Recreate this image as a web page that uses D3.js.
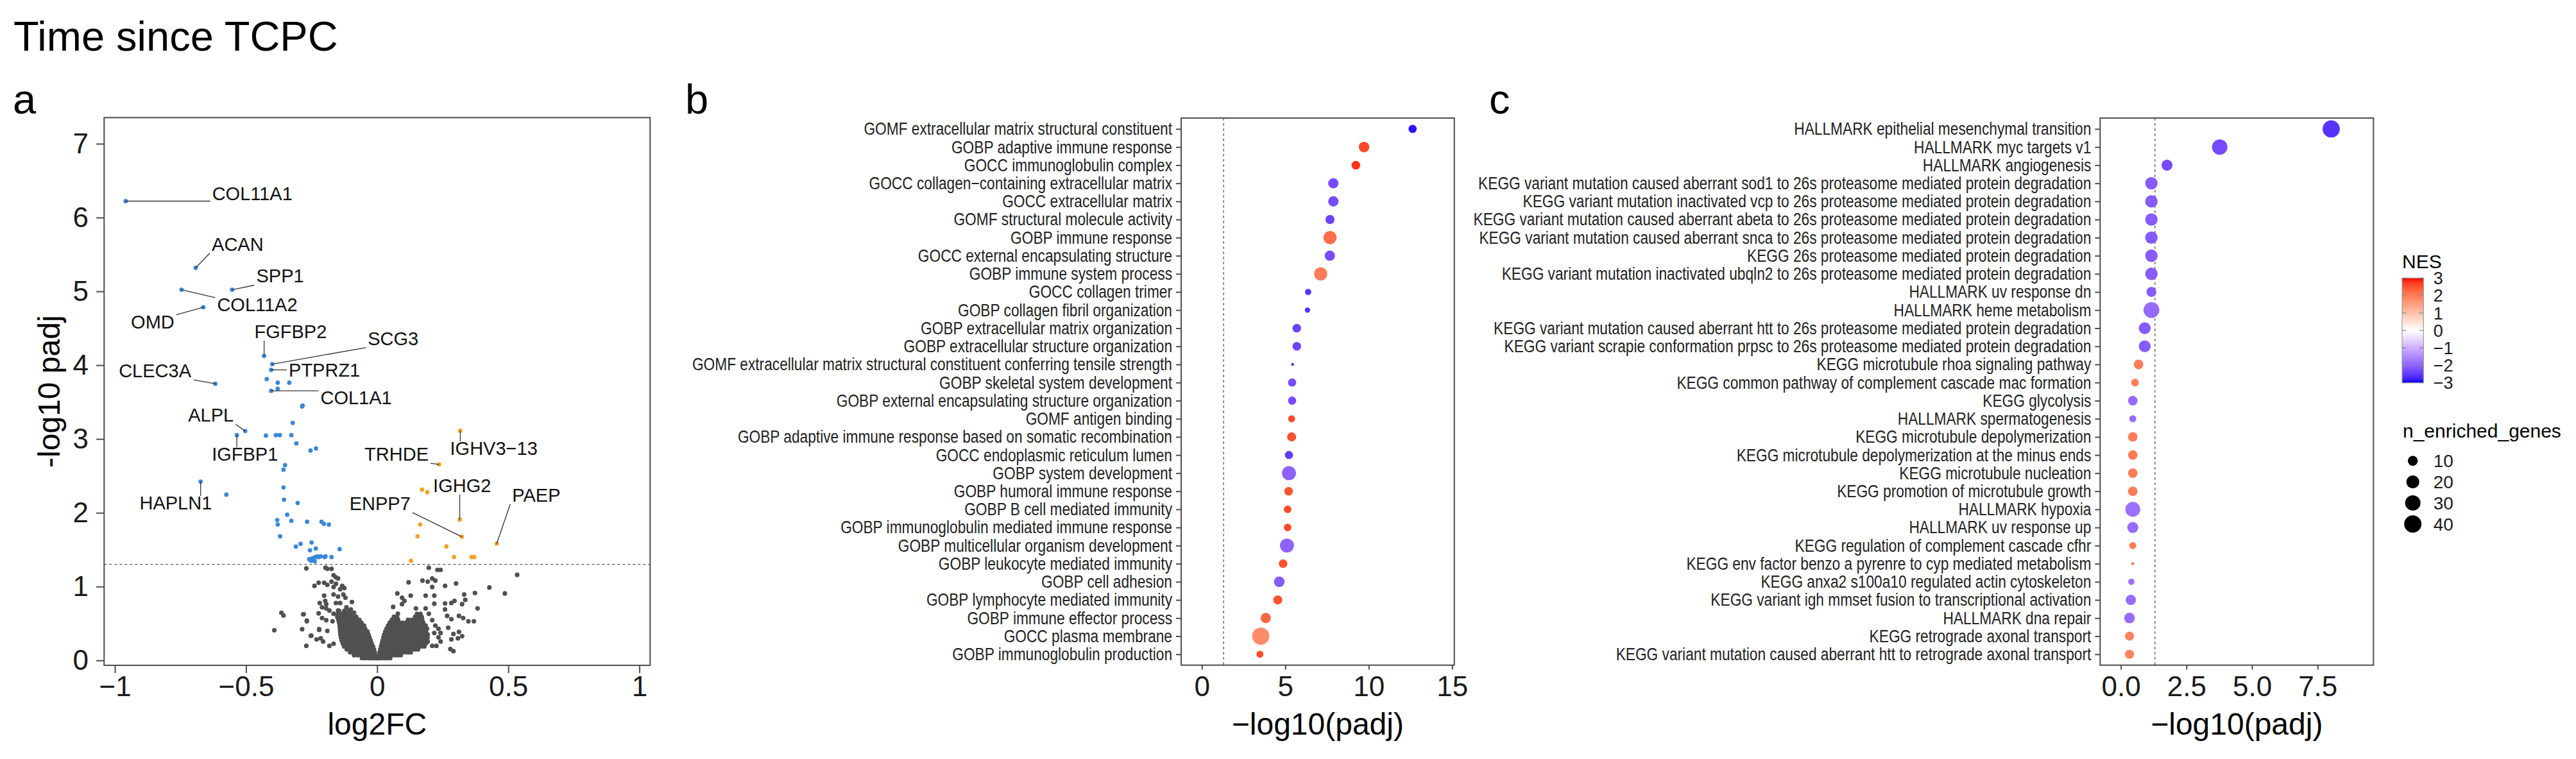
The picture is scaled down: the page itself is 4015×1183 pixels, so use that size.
<!DOCTYPE html>
<html>
<head>
<meta charset="utf-8">
<script src="https://cdn.jsdelivr.net/npm/d3@7"></script>
<style>
  body { margin: 0; background: #fff; }
  svg { display: block; font-family: "Liberation Sans", Arial, Helvetica, sans-serif; }
</style>
</head>
<body>
<div id="chart"></div>
<script>
// ---------- panel a : volcano ----------
const xTicksA = [-1, -0.5, 0, 0.5, 1];
const xTickLabelsA = ["\u22121", "\u22120.5", "0", "0.5", "1"];
const yTicksA = [0, 1, 2, 3, 4, 5, 6, 7];

// significant, down (log2FC, -log10 padj)
const downGenes = [
  [-0.959, 6.222], [-0.692, 5.318], [-0.746, 5.022], [-0.553, 5.022], [-0.663, 4.785],
  [-0.431, 4.124], [-0.400, 4.014], [-0.404, 3.936], [-0.421, 3.811], [-0.379, 3.762],
  [-0.335, 3.762], [-0.404, 3.652], [-0.379, 3.681], [-0.617, 3.748], [-0.284, 3.452],
  [-0.286, 3.440], [-0.322, 3.217], [-0.503, 3.107], [-0.535, 3.052], [-0.424, 3.046],
  [-0.386, 3.052], [-0.371, 3.052], [-0.327, 3.052], [-0.308, 2.939], [-0.254, 2.843],
  [-0.233, 2.872], [-0.351, 2.646], [-0.357, 2.583], [-0.673, 2.423], [-0.575, 2.246],
  [-0.357, 2.342], [-0.355, 2.177], [-0.303, 2.133], [-0.343, 1.974], [-0.381, 1.901],
  [-0.379, 1.840], [-0.327, 1.892], [-0.267, 1.878], [-0.212, 1.878], [-0.203, 1.849],
  [-0.184, 1.840], [-0.370, 1.681], [-0.250, 1.597], [-0.292, 1.579], [-0.310, 1.542],
  [-0.256, 1.492], [-0.234, 1.516], [-0.258, 1.370], [-0.246, 1.385], [-0.235, 1.400],
  [-0.223, 1.400], [-0.200, 1.400], [-0.174, 1.400], [-0.238, 1.342], [-0.143, 1.507],
  [-0.252, 1.350], [-0.259, 1.371], [-0.227, 1.409], [-0.215, 1.409], [-0.197, 1.409]
];
// significant, up
const upGenes = [
  [0.317, 3.110], [0.236, 2.655], [0.171, 2.313], [0.191, 2.278], [0.315, 1.907],
  [0.164, 1.840], [0.154, 1.681], [0.323, 1.675], [0.456, 1.583], [0.264, 1.544],
  [0.293, 1.400], [0.360, 1.400], [0.370, 1.400], [0.129, 1.348]
];
// not significant, scattered
const greyScatter = [
  [-0.270, 1.246], [-0.197, 1.255], [-0.190, 1.241], [-0.174, 1.241], [-0.166, 1.154], [-0.157, 1.125], [-0.149, 1.110],
  [-0.239, 1.009], [-0.223, 1.052], [-0.202, 1.052], [-0.190, 1.023], [-0.166, 0.994], [-0.133, 1.009], [-0.125, 0.980],
  [-0.202, 0.878], [-0.166, 0.893], [-0.149, 0.864], [-0.129, 0.893], [-0.121, 0.849], [-0.219, 0.777], [-0.194, 0.762],
  [-0.157, 0.777], [-0.141, 0.777], [-0.096, 0.791], [-0.194, 0.704], [-0.182, 0.675], [-0.149, 0.675], [-0.117, 0.719],
  [-0.088, 0.646], [-0.365, 0.646], [-0.357, 0.609], [-0.280, 0.626], [-0.268, 0.539], [-0.223, 0.638], [-0.210, 0.574],
  [-0.194, 0.545], [-0.170, 0.530], [-0.392, 0.409], [-0.286, 0.423], [-0.221, 0.423], [-0.190, 0.400], [-0.251, 0.336],
  [-0.231, 0.284], [-0.215, 0.299], [-0.270, 0.197], [-0.182, 0.197], [-0.166, 0.226], [-0.206, 0.255],
  [-0.157, 1.038], [-0.141, 0.965], [-0.174, 1.067], [-0.210, 0.719], [-0.166, 0.632], [-0.129, 0.632], [-0.100, 0.690],
  [-0.198, 0.806], [-0.141, 0.574], [-0.108, 0.603], [-0.282, 0.623], [-0.268, 0.530], [-0.253, 0.333], [-0.221, 0.414],
  [0.197, 1.255], [0.230, 1.226], [0.242, 1.226], [0.120, 1.058], [0.173, 1.081], [0.193, 1.067], [0.210, 1.110],
  [0.222, 1.081], [0.210, 0.994], [0.259, 1.009], [0.301, 1.043], [0.428, 0.988], [0.534, 1.159], [0.487, 0.907],
  [0.077, 0.907], [0.095, 0.849], [0.104, 0.806], [0.128, 0.878], [0.185, 0.878], [0.218, 0.878], [0.332, 0.893],
  [0.373, 0.913], [0.061, 0.725], [0.079, 0.632], [0.095, 0.762], [0.148, 0.704], [0.185, 0.704], [0.218, 0.768],
  [0.259, 0.771], [0.283, 0.777], [0.295, 0.806], [0.324, 0.762], [0.336, 0.820], [0.383, 0.704], [0.259, 0.690],
  [0.267, 0.603], [0.283, 0.559], [0.312, 0.603], [0.328, 0.574], [0.348, 0.530], [0.369, 0.530], [0.271, 0.443],
  [0.291, 0.357], [0.312, 0.386], [0.308, 0.299], [0.324, 0.328], [0.283, 0.284], [0.279, 0.154], [0.291, 0.125],
  [0.042, 0.386], [0.218, 0.371], [0.234, 0.313], [0.242, 0.255], [0.226, 0.197], [0.197, 0.632], [0.210, 0.545],
  [0.222, 0.472], [0.234, 0.428], [0.193, 0.255], [0.210, 0.197], [0.242, 0.371]
];
// not significant, dense core read row by row: [-log10 padj, [log2FC ...]]
const greyDense = [
  [0.03, [-0.058, -0.046, -0.034, -0.022, -0.011, -0.003, 0.004, 0.015, 0.027, 0.039, 0.05]],
  [0.07, [-0.088, -0.075, -0.062, -0.05, -0.038, -0.026, -0.014, -0.006, 0.007, 0.019, 0.031, 0.043, 0.055, 0.067, 0.079, 0.09]],
  [0.11, [-0.103, -0.09, -0.077, -0.064, -0.052, -0.04, -0.028, -0.017, -0.009, 0.01, 0.022, 0.034, 0.046, 0.058, 0.07, 0.082, 0.094, 0.106, 0.118, 0.128]],
  [0.15, [-0.116, -0.103, -0.09, -0.077, -0.064, -0.052, -0.04, -0.029, -0.019, -0.012, 0.012, 0.024, 0.036, 0.048, 0.06, 0.072, 0.084, 0.096, 0.108, 0.12, 0.132, 0.144, 0.156]],
  [0.19, [-0.126, -0.113, -0.1, -0.087, -0.074, -0.062, -0.05, -0.038, -0.027, -0.016, 0.015, 0.027, 0.039, 0.051, 0.063, 0.075, 0.087, 0.099, 0.111, 0.123, 0.135, 0.147, 0.159, 0.171, 0.18]],
  [0.23, [-0.131, -0.118, -0.105, -0.092, -0.079, -0.066, -0.054, -0.042, -0.031, -0.021, 0.018, 0.03, 0.042, 0.054, 0.066, 0.078, 0.09, 0.102, 0.114, 0.126, 0.138, 0.15, 0.162, 0.174, 0.186]],
  [0.27, [-0.135, -0.122, -0.109, -0.096, -0.083, -0.07, -0.058, -0.046, -0.035, -0.025, 0.021, 0.033, 0.045, 0.057, 0.069, 0.081, 0.093, 0.105, 0.117, 0.129, 0.141, 0.153, 0.165, 0.177, 0.19]],
  [0.31, [-0.138, -0.125, -0.112, -0.099, -0.086, -0.073, -0.061, -0.049, -0.038, -0.029, 0.024, 0.036, 0.048, 0.06, 0.072, 0.084, 0.096, 0.108, 0.12, 0.132, 0.144, 0.156, 0.168, 0.18, 0.192]],
  [0.35, [-0.14, -0.127, -0.114, -0.101, -0.088, -0.075, -0.063, -0.051, -0.041, -0.033, 0.027, 0.039, 0.051, 0.063, 0.075, 0.087, 0.099, 0.111, 0.123, 0.135, 0.147, 0.159, 0.171, 0.183, 0.193]],
  [0.39, [-0.141, -0.128, -0.115, -0.102, -0.089, -0.076, -0.064, -0.053, -0.043, -0.037, 0.031, 0.043, 0.055, 0.067, 0.079, 0.091, 0.103, 0.115, 0.127, 0.139, 0.151, 0.163, 0.175, 0.186]],
  [0.43, [-0.142, -0.129, -0.116, -0.103, -0.09, -0.077, -0.065, -0.055, -0.046, 0.036, 0.048, 0.06, 0.072, 0.084, 0.096, 0.108, 0.12, 0.132, 0.144, 0.156, 0.168, 0.18, 0.19]],
  [0.47, [-0.143, -0.13, -0.117, -0.104, -0.091, -0.078, -0.067, -0.057, -0.05, 0.042, 0.054, 0.066, 0.078, 0.09, 0.102, 0.114, 0.126, 0.138, 0.15, 0.162, 0.174, 0.185]],
  [0.51, [-0.145, -0.132, -0.119, -0.106, -0.093, -0.08, -0.069, -0.06, 0.048, 0.06, 0.072, 0.084, 0.096, 0.11, 0.124, 0.137, 0.15, 0.163, 0.176]],
  [0.55, [-0.148, -0.134, -0.12, -0.106, -0.092, -0.079, -0.068, 0.056, 0.068, 0.08, 0.118, 0.132, 0.146, 0.16, 0.172]],
  [0.59, [-0.152, -0.137, -0.122, -0.107, -0.093, -0.08, 0.064, 0.076, 0.145, 0.158, 0.17]],
  [0.63, [-0.15, -0.134, -0.118, -0.1, 0.152, 0.165]],
  [0.67, [-0.145, -0.125, -0.108]]
];
// labelled genes: [name, point log2FC, point -log10 padj, label log2FC, label -log10 padj]
const geneLabels = [
  ["COL11A1", -0.959, 6.222, -0.476, 6.322],
  ["ACAN", -0.692, 5.318, -0.532, 5.643],
  ["SPP1", -0.553, 5.022, -0.370, 5.209],
  ["COL11A2", -0.746, 5.022, -0.457, 4.823],
  ["OMD", -0.663, 4.785, -0.856, 4.591],
  ["FGFBP2", -0.431, 4.124, -0.330, 4.458],
  ["SCG3", -0.400, 4.014, 0.061, 4.363],
  ["PTPRZ1", -0.404, 3.936, -0.201, 3.939],
  ["COL1A1", -0.404, 3.652, -0.080, 3.563],
  ["CLEC3A", -0.617, 3.748, -0.847, 3.925],
  ["ALPL", -0.503, 3.107, -0.634, 3.325],
  ["IGFBP1", -0.535, 3.052, -0.504, 2.795],
  ["HAPLN1", -0.673, 2.423, -0.768, 2.137],
  ["IGHV3\u221213", 0.317, 3.110, 0.445, 2.873],
  ["TRHDE", 0.236, 2.655, 0.074, 2.795],
  ["IGHG2", 0.315, 1.907, 0.324, 2.374],
  ["ENPP7", 0.323, 1.675, 0.011, 2.128],
  ["PAEP", 0.456, 1.583, 0.607, 2.243]
];

// ---------- panel b : GO ----------
const goTerms = [
  "GOMF extracellular matrix structural constituent", "GOBP adaptive immune response",
  "GOCC immunoglobulin complex", "GOCC collagen\u2212containing extracellular matrix",
  "GOCC extracellular matrix", "GOMF structural molecule activity", "GOBP immune response",
  "GOCC external encapsulating structure", "GOBP immune system process", "GOCC collagen trimer",
  "GOBP collagen fibril organization", "GOBP extracellular matrix organization",
  "GOBP extracellular structure organization",
  "GOMF extracellular matrix structural constituent conferring tensile strength",
  "GOBP skeletal system development", "GOBP external encapsulating structure organization",
  "GOMF antigen binding", "GOBP adaptive immune response based on somatic recombination",
  "GOCC endoplasmic reticulum lumen", "GOBP system development", "GOBP humoral immune response",
  "GOBP B cell mediated immunity", "GOBP immunoglobulin mediated immune response",
  "GOBP multicellular organism development", "GOBP leukocyte mediated immunity", "GOBP cell adhesion",
  "GOBP lymphocyte mediated immunity", "GOBP immune effector process", "GOCC plasma membrane",
  "GOBP immunoglobulin production"
];
const goPadj = [12.63, 9.72, 9.23, 7.88, 7.88, 7.68, 7.68, 7.67, 7.12, 6.37, 6.33, 5.69, 5.69, 5.44, 5.41,
  5.41, 5.38, 5.38, 5.22, 5.22, 5.20, 5.14, 5.14, 5.10, 4.87, 4.64, 4.55, 3.83, 3.53, 3.48];
const goNES = [-2.9, 2.6, 2.8, -2.3, -2.3, -2.4, 2.2, -2.3, 2.0, -2.6, -2.6, -2.4, -2.4, -2.6, -2.3,
  -2.3, 2.6, 2.5, -2.5, -2.0, 2.5, 2.6, 2.6, -2.0, 2.5, -2.1, 2.5, 2.3, 1.8, 2.6];
const goN = [6, 12, 7, 11, 11, 8, 21, 11, 21, 3, 2, 7, 7, 1, 6, 6, 4, 8, 6, 24, 7, 5, 5, 24, 7, 12, 8, 11, 39, 4];
const xTicksB = [0, 5, 10, 15];

// ---------- panel c : HALLMARK / KEGG ----------
const pwTerms = [
  "HALLMARK epithelial mesenchymal transition", "HALLMARK myc targets v1", "HALLMARK angiogenesis",
  "KEGG variant mutation caused aberrant sod1 to 26s proteasome mediated protein degradation",
  "KEGG variant mutation inactivated vcp to 26s proteasome mediated protein degradation",
  "KEGG variant mutation caused aberrant abeta to 26s proteasome mediated protein degradation",
  "KEGG variant mutation caused aberrant snca to 26s proteasome mediated protein degradation",
  "KEGG 26s proteasome mediated protein degradation",
  "KEGG variant mutation inactivated ubqln2 to 26s proteasome mediated protein degradation",
  "HALLMARK uv response dn", "HALLMARK heme metabolism",
  "KEGG variant mutation caused aberrant htt to 26s proteasome mediated protein degradation",
  "KEGG variant scrapie conformation prpsc to 26s proteasome mediated protein degradation",
  "KEGG microtubule rhoa signaling pathway", "KEGG common pathway of complement cascade mac formation",
  "KEGG glycolysis", "HALLMARK spermatogenesis", "KEGG microtubule depolymerization",
  "KEGG microtubule depolymerization at the minus ends", "KEGG microtubule nucleation",
  "KEGG promotion of microtubule growth", "HALLMARK hypoxia", "HALLMARK uv response up",
  "KEGG regulation of complement cascade cfhr", "KEGG env factor benzo a pyrenre to cyp mediated metabolism",
  "KEGG anxa2 s100a10 regulated actin cytoskeleton", "KEGG variant igh mmset fusion to transcriptional activation",
  "HALLMARK dna repair", "KEGG retrograde axonal transport",
  "KEGG variant mutation caused aberrant htt to retrograde axonal transport"
];
const pwPadj = [8.02, 3.77, 1.76, 1.165, 1.165, 1.165, 1.165, 1.165, 1.165, 1.165, 1.165, 0.91, 0.91, 0.675, 0.54,
  0.455, 0.455, 0.455, 0.455, 0.455, 0.455, 0.455, 0.455, 0.455, 0.455, 0.40, 0.38, 0.33, 0.33, 0.33];
const pwNES = [-2.6, -2.3, -2.3, -2.1, -2.1, -2.1, -2.1, -2.1, -2.1, -2.1, -1.9, -2.1, -2.1, 2.0, 2.0,
  -1.9, -1.9, 2.0, 2.0, 2.0, 2.0, -1.8, -1.9, 2.0, 2.0, -1.8, -1.9, -1.9, 1.9, 1.9];
const pwN = [39, 30, 13, 18, 18, 18, 18, 18, 18, 10, 32, 16, 16, 9, 5, 9, 4, 9, 9, 9, 9, 28, 13, 4, 1, 3, 11, 12, 8, 8];
const xTicksC = [0, 2.5, 5, 7.5];
const xTickLabelsC = ["0.0", "2.5", "5.0", "7.5"];

// ---------- legends ----------
const nesTicks = [-3, -2, -1, 0, 1, 2, 3];
const sizeBreaks = [10, 20, 30, 40];

const W = 4015, H = 1183;
const AX = "#4d4d4d", TXT = "#1a1a1a";
const padjCut = -Math.log10(0.05);

const svg = d3.select("#chart").append("svg").attr("width", W).attr("height", H);
svg.append("rect").attr("width", W).attr("height", H).attr("fill", "#fff");

const nesColor = d3.scaleLinear().domain([-3, 0, 3]).range(["blue", "white", "red"])
  .interpolate(d3.interpolateLab).clamp(true);
const sizeT = d3.scaleLinear().domain([1, 45]).range([0, 1]).clamp(true);
const sizeR = d3.scaleSqrt().domain([0, 1]).range([2.37, 14.2]);

function styleAxis(a, fs) {
  a.attr("font-size", null).attr("font-family", null);
  a.select(".domain").remove();
  a.selectAll(".tick line").attr("stroke", AX).attr("stroke-width", 2);
  a.selectAll(".tick text").attr("fill", TXT).attr("font-size", fs);
}

// headings
svg.append("text").attr("x", 21).attr("y", 79).attr("font-size", 65).attr("fill", "#000").text("Time since TCPC");
[["a", 20], ["b", 1068], ["c", 2321]].forEach(([t, x]) =>
  svg.append("text").attr("x", x).attr("y", 177).attr("font-size", 65).attr("fill", "#000").text(t));

function renderVolcano() {
  const L = 162.3, R = 1013.3, T = 183.3, B = 1037;
  const x = d3.scaleLinear().domain([-1.041, 1.041]).range([L, R]);
  const y = d3.scaleLinear().domain([-0.067, 7.354]).range([B, T]);
  const g = svg.append("g");

  const grey = greyScatter.concat(...greyDense.map(([yy, xs]) => xs.map(xx => [xx, yy])));
  g.append("g").selectAll("circle").data(grey).join("circle")
    .attr("cx", d => x(d[0])).attr("cy", d => y(d[1])).attr("r", 3.6).attr("fill", "#505050");
  g.append("g").selectAll("circle").data(downGenes).join("circle")
    .attr("cx", d => x(d[0])).attr("cy", d => y(d[1])).attr("r", 3.4).attr("fill", "#3a86d8");
  g.append("g").selectAll("circle").data(upGenes).join("circle")
    .attr("cx", d => x(d[0])).attr("cy", d => y(d[1])).attr("r", 3.4).attr("fill", "#f0a428");

  g.append("line").attr("x1", L).attr("x2", R).attr("y1", y(padjCut)).attr("y2", y(padjCut))
    .attr("stroke", "#555").attr("stroke-width", 1.4).attr("stroke-dasharray", "4,4");

  // repel-style labels: segment from point to nearest edge of label box
  const lab = g.append("g");
  geneLabels.forEach(([name, px, py, lx, ly]) => {
    const t = lab.append("text").attr("x", x(lx)).attr("y", y(ly)).attr("dy", "0.36em")
      .attr("text-anchor", "middle").attr("font-size", 29).attr("fill", "#111").text(name);
    const bb = t.node().getBBox();
    const p = [x(px), y(py)];
    const ex = Math.max(bb.x - 3, Math.min(bb.x + bb.width + 3, p[0]));
    const ey = Math.max(bb.y + 5, Math.min(bb.y + bb.height - 2, p[1]));
    lab.insert("line", "text").attr("x1", p[0]).attr("y1", p[1]).attr("x2", ex).attr("y2", ey)
      .attr("stroke", "#333").attr("stroke-width", 1.3);
  });

  g.append("rect").attr("x", L).attr("y", T).attr("width", R - L).attr("height", B - T)
    .attr("fill", "none").attr("stroke", AX).attr("stroke-width", 2);

  g.append("g").attr("transform", `translate(0,${B})`)
    .call(d3.axisBottom(x).tickValues(xTicksA).tickFormat((d, i) => xTickLabelsA[i]).tickSize(12).tickPadding(5))
    .call(a => styleAxis(a, 44));
  g.append("g").attr("transform", `translate(${L},0)`)
    .call(d3.axisLeft(y).tickValues(yTicksA).tickFormat(d3.format("d")).tickSize(12.3).tickPadding(12))
    .call(a => styleAxis(a, 44));

  g.append("text").attr("x", (L + R) / 2).attr("y", 1145).attr("text-anchor", "middle")
    .attr("font-size", 48).attr("fill", "#000").text("log2FC");
  g.append("text").attr("transform", `translate(93,${(T + B) / 2}) rotate(-90)`).attr("text-anchor", "middle")
    .attr("font-size", 48).attr("fill", "#000").text("-log10 padj");
}

function renderDotPanel(p) {
  const T = 184, B = 1036.7;
  const x = d3.scaleLinear().domain(p.xDomain).range([p.left, p.right]);
  const y = d3.scalePoint().domain(p.terms).range([T, B]).padding(0.6);
  const g = svg.append("g");
  const rows = p.terms.map((t, i) => ({ t, v: p.padj[i], nes: p.nes[i], n: p.n[i] }));

  g.append("line").attr("x1", x(padjCut)).attr("x2", x(padjCut)).attr("y1", T).attr("y2", B)
    .attr("stroke", "#555").attr("stroke-width", 1.3).attr("stroke-dasharray", "4,4");

  g.append("g").selectAll("circle").data(rows).join("circle")
    .attr("cx", d => x(d.v)).attr("cy", d => y(d.t))
    .attr("r", d => sizeR(sizeT(d.n))).attr("fill", d => nesColor(d.nes));

  g.append("rect").attr("x", p.left).attr("y", T).attr("width", p.right - p.left).attr("height", B - T)
    .attr("fill", "none").attr("stroke", AX).attr("stroke-width", 2);

  const narrow = 0.82;
  g.append("g").attr("transform", `translate(${p.left},0)`)
    .call(d3.axisLeft(y).tickSize(8).tickPadding(6))
    .call(a => styleAxis(a, 27.7))
    .call(a => a.selectAll(".tick text").attr("fill", "#222")
      .attr("x", -14 / narrow).attr("transform", `scale(${narrow},1)`));

  g.append("g").attr("transform", `translate(0,${B})`)
    .call(d3.axisBottom(x).tickValues(p.ticks).tickFormat((d, i) => p.tickLabels[i]).tickSize(7).tickPadding(10))
    .call(a => styleAxis(a, 44));

  g.append("text").attr("x", (p.left + p.right) / 2).attr("y", 1145).attr("text-anchor", "middle")
    .attr("font-size", 48).attr("fill", "#000").text("\u2212log10(padj)");
}

function renderLegend() {
  const g = svg.append("g");
  const bx = 3744, bw = 33.3;
  const cbY = d3.scaleLinear().domain([-3, 3]).range([596.7, 433.4]);

  g.append("text").attr("x", bx).attr("y", 418).attr("font-size", 30).attr("fill", "#000").text("NES");
  const grad = svg.append("defs").append("linearGradient").attr("id", "nesGrad")
    .attr("x1", 0).attr("y1", 1).attr("x2", 0).attr("y2", 0);
  d3.range(-3, 3.01, 0.25).forEach(v =>
    grad.append("stop").attr("offset", (v + 3) / 6).attr("stop-color", nesColor(v)));
  g.append("rect").attr("x", bx).attr("y", cbY(3)).attr("width", bw).attr("height", cbY(-3) - cbY(3))
    .attr("fill", "url(#nesGrad)").attr("stroke", "#9a9a9a").attr("stroke-width", 1.2);
  g.append("g").selectAll("path").data(nesTicks).join("path")
    .attr("d", d => `M${bx},${cbY(d)}h6.5M${bx + bw - 6.5},${cbY(d)}h6.5`)
    .attr("stroke", "#8a8a8a").attr("stroke-width", 1.3);
  g.append("g").selectAll("text").data(nesTicks).join("text")
    .attr("x", 3792.7).attr("y", d => cbY(d)).attr("dy", "0.36em").attr("font-size", 27)
    .attr("fill", TXT).text(d => d3.format("d")(d));

  g.append("text").attr("x", 3745).attr("y", 681.7).attr("font-size", 30).attr("fill", "#000").text("n_enriched_genes");
  const key = g.append("g").selectAll("g").data(sizeBreaks).join("g")
    .attr("transform", (d, i) => `translate(0,${718.3 + i * 32.8})`);
  key.append("circle").attr("cx", bx + bw / 2).attr("r", d => sizeR(sizeT(d))).attr("fill", "#000");
  key.append("text").attr("x", 3792.7).attr("dy", "0.36em").attr("font-size", 28).attr("fill", TXT).text(d => d);
}

renderVolcano();
renderDotPanel({ terms: goTerms, padj: goPadj, nes: goNES, n: goN, xDomain: [-1.24, 15.13],
  left: 1841, right: 2266.7, ticks: xTicksB, tickLabels: xTicksB.map(String) });
renderDotPanel({ terms: pwTerms, padj: pwPadj, nes: pwNES, n: pwN, xDomain: [-0.79, 9.63],
  left: 3273.3, right: 3699.3, ticks: xTicksC, tickLabels: xTickLabelsC });
renderLegend();
</script>
</body>
</html>
